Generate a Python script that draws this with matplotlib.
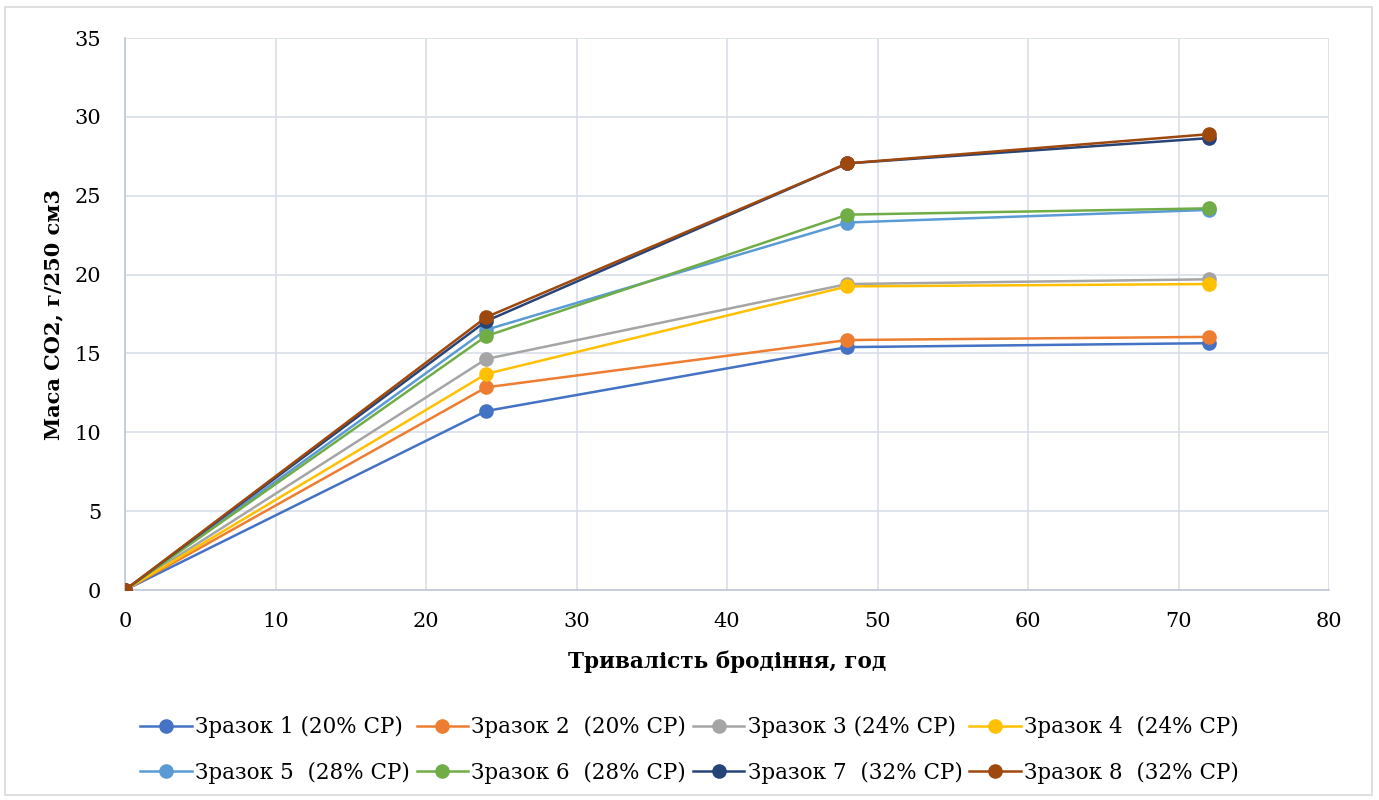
import numpy as np
import matplotlib
matplotlib.use('Agg')
import matplotlib.pyplot as plt
from matplotlib.patches import Rectangle

plt.rcParams['font.family'] = ['DejaVu Serif']

# Data
hours = [0, 24, 48, 72]
s1 = [0, 11.35, 15.4, 15.65]
s2 = [0, 12.85, 15.85, 16.05]
s3 = [0, 14.65, 19.4, 19.7]
s4 = [0, 13.7, 19.25, 19.4]
s5 = [0, 16.5, 23.3, 24.1]
s6 = [0, 16.1, 23.8, 24.2]
s7 = [0, 17.05, 27.05, 28.65]
s8 = [0, 17.3, 27.05, 28.9]
series = [s1, s2, s3, s4, s5, s6, s7, s8]
labels = ["Зразок 1 (20% СР)", "Зразок 2  (20% СР)", "Зразок 3 (24% СР)",
          "Зразок 4  (24% СР)", "Зразок 5  (28% СР)", "Зразок 6  (28% СР)",
          "Зразок 7  (32% СР)", "Зразок 8  (32% СР)"]
colors = ['#4472C4', '#ED7D31', '#A5A5A5', '#FFC000',
          '#5B9BD5', '#70AD47', '#264478', '#9E480E']

fig = plt.figure(figsize=(13.79, 8), dpi=100)
ax = fig.add_axes([125/1379, 1 - 590/800, (1329-125)/1379, (590-38)/800])

# outer chart border
fig.patches.append(Rectangle((5/1379, 5/800), 1367/1379, 788/800,
                             transform=fig.transFigure, fill=False,
                             edgecolor='#D9D9D9', linewidth=1.2))

handles = []
for vals, lab, c in zip(series, labels, colors):
    h, = ax.plot(hours, vals, color=c, lw=1.8, marker='o', ms=9.5,
                 label=lab, zorder=3)
    handles.append(h)

ax.set_xlim(0, 80)
ax.set_ylim(0, 35)
ax.set_xticks(np.arange(0, 81, 10))
ax.set_yticks(np.arange(0, 36, 5))
ax.grid(True, color='#D9DEE8', lw=1.2)
ax.set_axisbelow(True)
for side in ['top', 'right']:
    ax.spines[side].set_visible(False)
for side in ['left', 'bottom']:
    ax.spines[side].set_color('#BFC6D4')
    ax.spines[side].set_linewidth(1.2)
ax.tick_params(length=0, labelsize=15, pad=16)
ax.tick_params(axis='y', pad=17)

ax.set_xlabel("Тривалість бродіння, год", fontsize=15.5, fontweight='bold', labelpad=14)
ax.set_ylabel("Маса СО2, г/250 см3", fontsize=15, fontweight='bold', labelpad=8)

# legend: row-wise order 1-4, 5-8
order = [0, 4, 1, 5, 2, 6, 3, 7]
leg = fig.legend([handles[i] for i in order], [labels[i] for i in order],
                 ncol=4, loc='center', bbox_to_anchor=(0.5, 1 - 750/800),
                 frameon=False, fontsize=15.5, handlelength=2.4,
                 handletextpad=0.15, columnspacing=0.3, labelspacing=1.1)
for h in leg.legend_handles:
    h.set_markersize(9.5)

fig.savefig('out.png', dpi=100)
